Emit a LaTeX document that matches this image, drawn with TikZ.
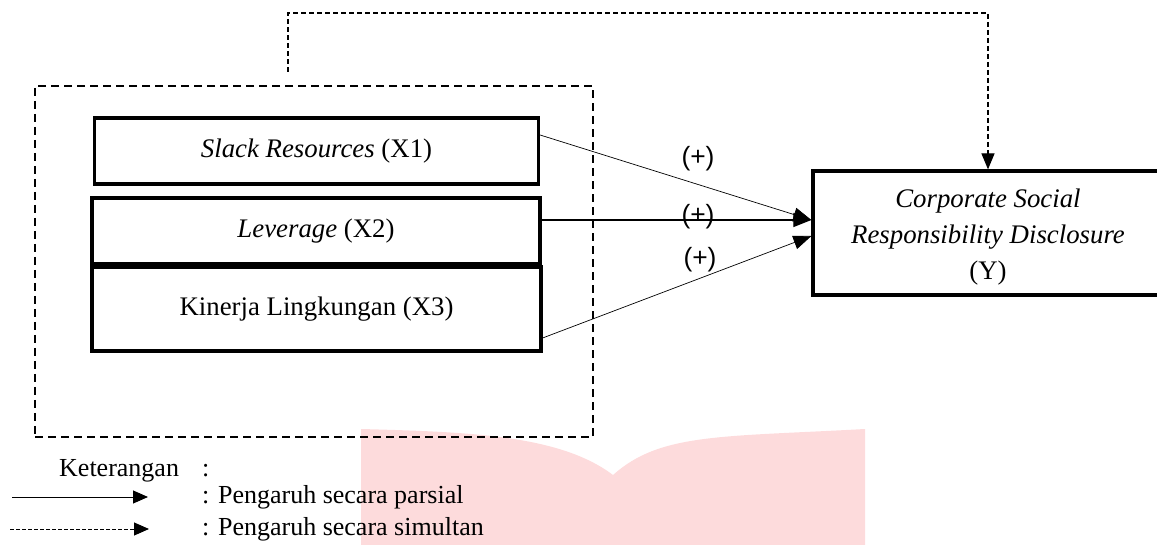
\documentclass[tikz,border=0pt]{standalone}
\usepackage{fontspec}
\setmainfont{Liberation Serif}
\newfontfamily\sansf{Liberation Sans}
\usetikzlibrary{arrows.meta}
\definecolor{wmpink}{RGB}{253,219,220}
\tikzset{
  varbox/.style={draw=black, line width=3.2pt, inner sep=0pt, font=\fontsize{26.8}{36}\selectfont, align=center},
  grpbox/.style={draw=black, line width=1.8pt, dash pattern=on 8pt off 5pt, inner sep=0pt},
  partial/.style={-{Triangle[length=18pt,width=14pt]}, line width=0.7pt},
  simul/.style={-{Triangle[length=16pt,width=13pt]}, line width=1.2pt, dash pattern=on 5pt off 3pt},
  plus/.style={font=\sansf\fontsize{26.4}{30}\selectfont, inner sep=0pt},
  legtxt/.style={font=\fontsize{26}{30}\selectfont, inner sep=0pt, anchor=west},
}
\begin{document}
\begin{tikzpicture}[x=1pt, y=-1pt]
\clip (0,0) rectangle (1157,545);
% watermark
\fill[wmpink] (361,429) .. controls (470,432) and (560,435) .. (613,475)
  .. controls (660,433) and (720,437) .. (865,429) -- (865,545) -- (361,545) -- cycle;
% group box
\node[grpbox, minimum width=558pt, minimum height=351pt] (grp) at (314,261.5) {};
% variable boxes
\node[varbox, minimum width=444pt, minimum height=66pt] (x1) at (316.5,151) {\itshape Slack Resources\upshape{} (X1)};
\node[varbox, minimum width=448pt, minimum height=66pt] (x2) at (316,231) {\itshape Leverage\upshape{} (X2)};
\node[varbox, minimum width=449pt, minimum height=84pt] (x3) at (316.5,309) {Kinerja Lingkungan (X3)};
\node[varbox, minimum width=350pt, minimum height=124pt] (y) at (988,233) {};
\node[font=\fontsize{26.8}{36}\selectfont, align=center, inner sep=0pt] (ytxt) at (988,237) {\itshape Corporate Social\\ \itshape Responsibility Disclosure\\ (Y)};
% partial arrows
\coordinate (tipA) at ([yshift=13pt]y.west);
\coordinate (tipB) at ([yshift=-3pt]y.west);
\draw[partial] ([yshift=16pt]x1.east) -- (tipA);
\draw[partial, line width=1.1pt] (x2.east |- tipA) -- (tipA);
\draw[partial] ([yshift=-29pt]x3.east) -- (tipB);
% simultaneous arrow
\coordinate (simstart) at (288,72);
\draw[simul] (simstart) -- (288,13) -| (y.north);
% labels
\node[plus] (p1) at (698,159) {(+)};
\node[plus] (p2) at (698,217) {(+)};
\node[plus] (p3) at (700,260) {(+)};
% legend
\node[legtxt] (ket) at (59,471) {Keterangan};
\node[legtxt] (ketc) at (202,471) {:};
\node[legtxt] (lp) at (202,497) {: Pengaruh secara parsial};
\node[legtxt] (ls) at (202,529) {: Pengaruh secara simultan};
\coordinate (lpa) at (12,497);
\coordinate (lpb) at (148,497);
\coordinate (lsa) at (10,529);
\coordinate (lsb) at (149,529);
\draw[-{Triangle[length=15pt,width=13pt]}, line width=1pt] (lpa) -- (lpb);
\draw[-{Triangle[length=15pt,width=13pt]}, line width=1pt, dash pattern=on 3.5pt off 2.5pt] (lsa) -- (lsb);
\end{tikzpicture}
\end{document}
